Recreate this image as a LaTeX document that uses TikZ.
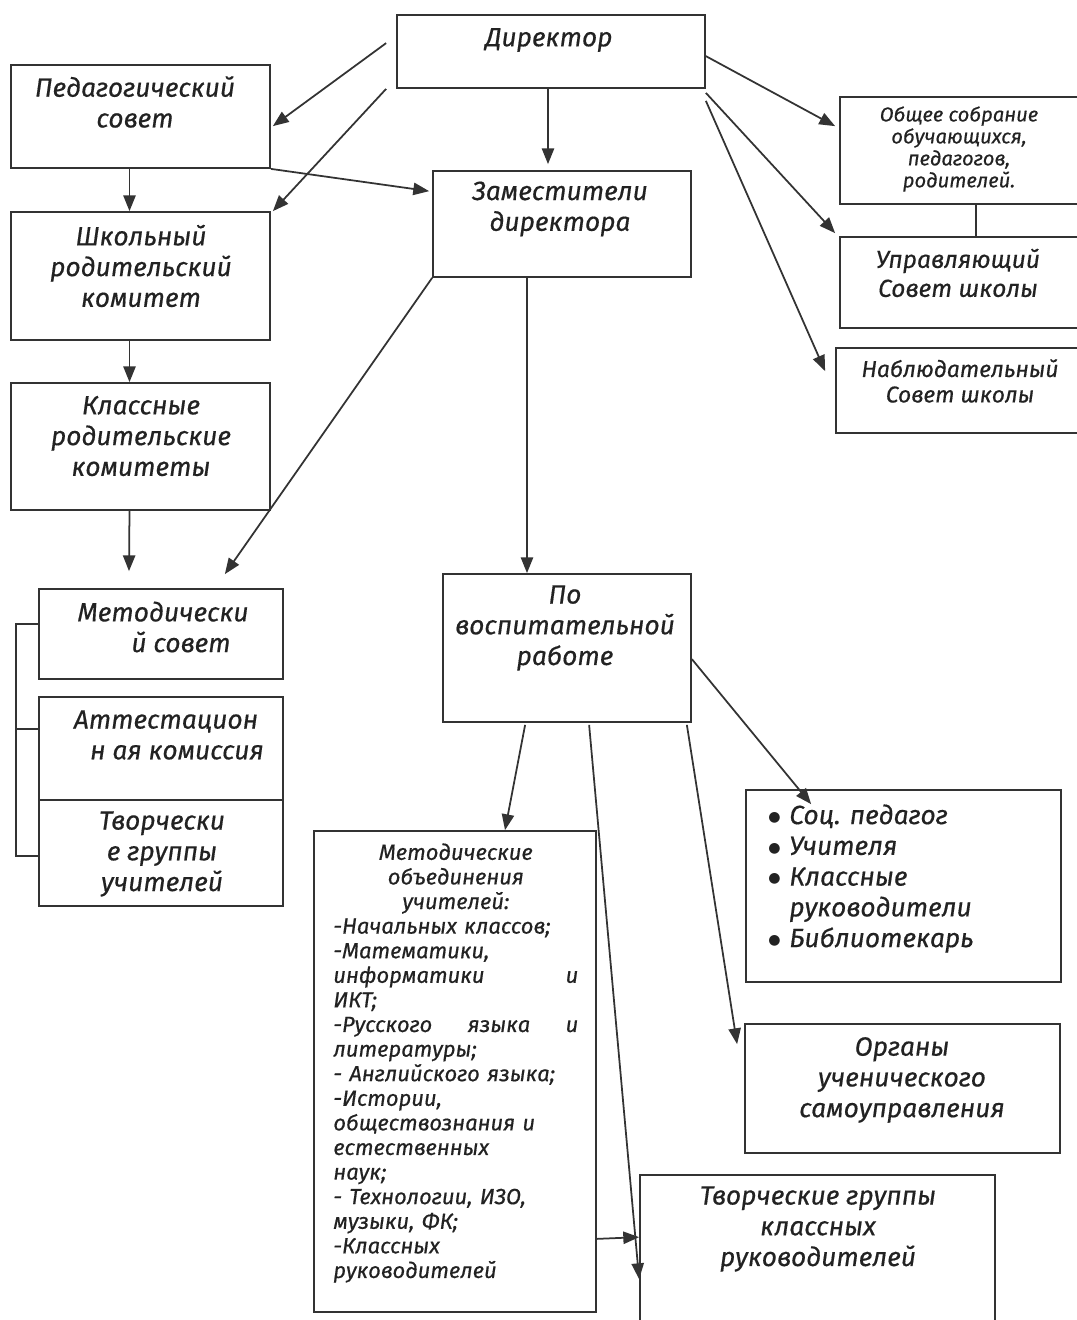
\documentclass[tikz,border=0pt]{standalone}
\usepackage{fontspec}
\setmainfont{Fira Sans}
\newfontfamily\mf[FakeBold=0.5]{Fira Sans}
\newfontfamily\djv{DejaVu Sans}
\usetikzlibrary{fit,arrows.meta}
\definecolor{lncol}{HTML}{333333}
\definecolor{txcol}{HTML}{222222}
\newcommand\bul{\makebox[0.42cm][l]{\raisebox{1.6pt}{\djv\fontsize{8}{8}\selectfont ●}}}
\begin{document}
\begin{tikzpicture}[x=0.02cm,y=-0.02cm,
  bx/.style={draw=lncol,line width=1pt,inner sep=0pt,rectangle},
  tt/.style={text=txcol,font=\mf\fontsize{15}{17.5}\selectfont\itshape,align=center,inner sep=0pt},
  st/.style={text=txcol,font=\mf\fontsize{11.5}{12.5}\selectfont\itshape,align=center,inner sep=0pt},
  mt/.style={text=txcol,font=\mf\fontsize{12.5}{14}\selectfont\itshape,align=left,inner sep=0pt},
  arr/.style={draw=lncol,line width=1pt,-{Triangle[length=9pt,width=7pt]}},
  con/.style={draw=lncol,line width=1pt}]
\useasboundingbox[fill=white] (0,0) rectangle (1077,1320);

% boxes
\node[bx,fit={(397,15) (705,88)}] (dir) {};
\node[bx,fit={(11,65) (270,168)}] (ped) {};
\node[bx,fit={(433,171) (691,277)}] (zam) {};
\node[bx,fit={(11,212) (270,340)}] (sch) {};
\node[bx,fit={(11,383) (270,510)}] (kl) {};
\node[bx,fit={(840,97) (1082,204)}] (obs) {};
\node[bx,fit={(840,237) (1082,328)}] (upr) {};
\node[bx,fit={(836,348) (1082,433)}] (nab) {};
\node[bx,fit={(39,589) (283,679)}] (met) {};
\node[bx,fit={(39,697) (283,906)}] (att) {};
\coordinate (divL) at (39,800);
\coordinate (divR) at (283,800);
\node[bx,fit={(443,574) (691,722)}] (vos) {};
\node[bx,fit={(314,831) (596,1312)}] (mo) {};
\node[bx,fit={(746,790) (1061,982)}] (soc) {};
\node[bx,fit={(745,1024) (1060,1153)}] (org) {};
\node[bx,fit={(640,1175) (995,1340)}] (tv) {};

% texts
\node[tt] (dirT) at (549,40) {Директор};
\node[tt] (pedT) at (135,102) {Педагогический\\совет};
\node[tt] (zamT) at (560,209) {Заместители\\директора};
\node[tt] (schT) at (141,266) {Школьный\\родительский\\комитет};
\node[tt] (klT) at (141,436) {Классные\\родительские\\комитеты};
\node[st] (obsT) at (959,149) {Общее собрание\\обучающихся,\\педагогов,\\родителей.};
\node[tt,font=\mf\fontsize{14}{16.5}\selectfont\itshape] (uprT) at (958,273) {Управляющий\\Совет школы};
\node[tt,font=\mf\fontsize{13}{14.5}\selectfont\itshape] (nabT) at (960,381) {Наблюдательный\\Совет школы};
\node[tt] (metT) at (163,627) {Методически\\\hspace*{0.72cm}й совет};
\node[tt] (attT) at (166,735) {Аттестацион\\\hspace*{0.44cm}н ая комиссия};
\node[tt] (tvuT) at (162,854) {Творчески\\е группы\\учителей};
\node[tt] (vosT) at (565,628) {По\\воспитательной\\работе};
\node[mt,text width=4.9cm,anchor=north west] (moT) at (333,843) {%
{\centering Методические\\объединения\\учителей:\par}
-Начальных классов;\\
-Математики,\\
информатики\hfill и\hspace*{0.36cm}\\
ИКТ;\\
-Русского\hfill языка\hfill и\hspace*{0.36cm}\\
литературы;\\
- Английского языка;\\
-Истории,\\
обществознания и\\
естественных\\
наук;\\
- Технологии, ИЗО,\\
музыки, ФК;\\
-Классных\\
руководителей};
\node[tt,align=left,anchor=north west] (socT) at (768,804) {%
\bul Соц. педагог\\
\bul Учителя\\
\bul Классные\\
\makebox[0.42cm][l]{}руководители\\
\bul Библиотекарь};
\node[tt] (orgT) at (902,1080) {Органы\\ученического\\самоуправления};
\node[tt] (tvT) at (818,1229) {Творческие группы\\классных\\руководителей};

% connectors
\draw[arr] ([shift={(-10,29)}]dir.north west) -- ([shift={(2,62)}]ped.north east);
\draw[arr] ([shift={(-10,0)}]dir.south west) -- ([shift={(2,0)}]sch.north east);
\draw[arr] ([shift={(-3,0)}]dir.south) -- ([shift={(-14,-6)}]zam.north);
\draw[arr] (ped.south east) -- ([shift={(-3,21)}]zam.north west);
\draw[arr] ([shift={(-11,0)}]ped.south) -- ([shift={(-11,0)}]sch.north);
\draw[arr] ([shift={(-11,0)}]sch.south) -- ([shift={(-11,0)}]kl.north);
\draw[arr] ([shift={(-11,0)}]kl.south) -- ([shift={(-32,-17)}]met.north);
\draw[arr] (zam.south west) -- ([shift={(-59,-14)}]met.north east);
\draw[arr] ([shift={(-35,0)}]zam.south) -- ([shift={(-40,0)}]vos.north);
\draw[arr] ([shift={(0,42)}]dir.north east) -- ([shift={(-4,30)}]obs.north west);
\draw[arr] ([shift={(0,4)}]dir.south east) -- ([shift={(-4,-3)}]upr.north west);
\draw[arr] ([shift={(0,12)}]dir.south east) -- ([shift={(-10,24)}]nab.north west);
\draw[con] ([shift={(15,0)}]obs.south) -- ([shift={(15,0)}]upr.north);
\draw[con] (divL) -- (divR);
\draw[con] ([shift={(0,36)}]met.north west) -- ++(-22,0) |- ([shift={(0,-51)}]att.south west);
\draw[con] ([shift={(0,33)}]att.north west) -- ++(-22,0);
\draw[arr] ([shift={(83,2)}]vos.south west) -- ([shift={(50,0)}]mo.north);
\draw[arr] ([shift={(147,2)}]vos.south west) -- ([shift={(0,105)}]tv.north west);
\draw[arr] ([shift={(0,-74)}]mo.south east) -- ([shift={(0,63)}]tv.north west);
\draw[arr] ([shift={(-5,2)}]vos.south east) -- ([shift={(-7,21)}]org.north west);
\draw[arr] ([shift={(0,86)}]vos.north east) -- ([shift={(66,15)}]soc.north west);
\end{tikzpicture}
\end{document}
